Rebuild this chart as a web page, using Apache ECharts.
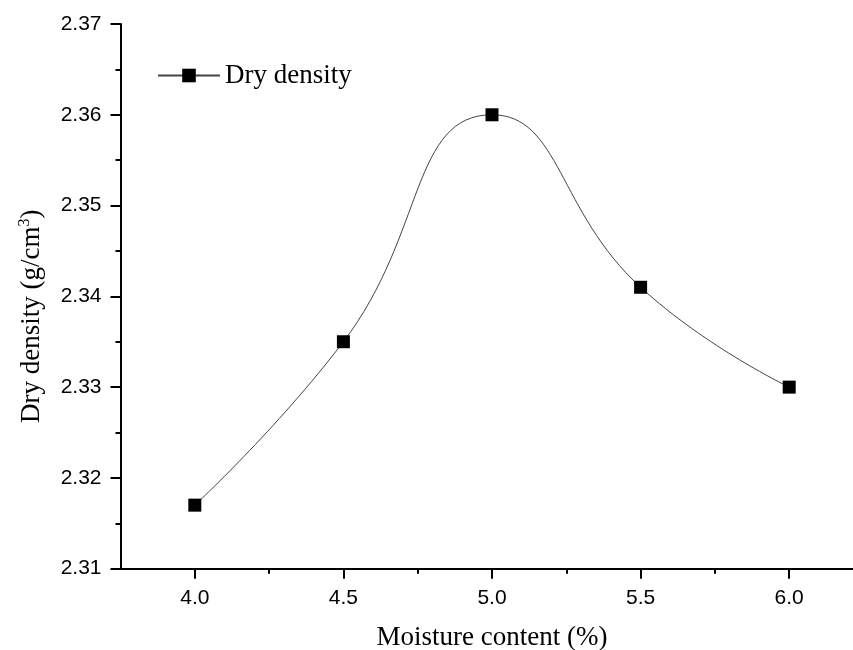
<!DOCTYPE html>
<html>
<head>
<meta charset="utf-8">
<script src="https://cdn.jsdelivr.net/npm/echarts@6/dist/echarts.min.js"></script>
<style>html,body{margin:0;padding:0;background:#fff}#c{width:853px;height:650px}</style>
</head>
<body>
<div id="c"></div>
<script>
const moisture = [4.0, 4.5, 5.0, 5.5, 6.0];
const dryDensity = [2.317, 2.335, 2.360, 2.341, 2.330];
const xMajorTicks = [4.0, 4.5, 5.0, 5.5, 6.0];
const xMinorTicks = [4.25, 4.75, 5.25, 5.75];
const seriesName = 'Dry density';
const xTitle = 'Moisture content (%)';
const yTitle = 'Dry density (g/cm{sup|3})';

const chart = echarts.init(document.getElementById('c'), null, {renderer: 'canvas'});
const xMin = 3.75, xMax = 6.25;
chart.setOption({
  backgroundColor: '#fff',
  animation: false,
  grid: {left: 120.5, top: 24, width: 743, height: 544.7, containLabel: false, outerBoundsMode: 'none'},
  legend: {
    data: [seriesName],
    left: 152, top: 57,
    itemWidth: 62, itemHeight: 17, itemGap: 8,
    textStyle: {fontFamily: 'Liberation Serif', fontSize: 27, color: '#000'}
  },
  xAxis: [{
    type: 'value', min: xMin, max: xMax,
    name: xTitle, nameLocation: 'middle', nameGap: 56,
    nameTextStyle: {fontFamily: 'Liberation Serif', fontSize: 27, color: '#000'},
    splitLine: {show: false},
    axisLine: {lineStyle: {color: '#000', width: 2}},
    axisTick: {show: true, inside: false, length: 10, lineStyle: {color: '#000', width: 2},
      customValues: xMajorTicks},
    axisLabel: {fontFamily: 'Liberation Sans', fontSize: 21, color: '#000', margin: 19,
      customValues: xMajorTicks,
      formatter: v => v.toFixed(1)}
  }, {
    type: 'value', min: xMin, max: xMax, position: 'bottom',
    splitLine: {show: false},
    axisLine: {show: false},
    axisTick: {show: true, inside: false, length: 5, lineStyle: {color: '#000', width: 2},
      customValues: xMinorTicks},
    axisLabel: {show: false}
  }],
  yAxis: {
    type: 'value', min: 2.31, max: 2.37, interval: 0.01,
    name: yTitle, nameLocation: 'middle', nameGap: 74, nameRotate: 90,
    nameTextStyle: {fontFamily: 'Liberation Serif', fontSize: 27, color: '#000', padding: [0, 40, 0, 0],
      rich: {sup: {fontFamily: 'Liberation Serif', fontSize: 16, color: '#000', verticalAlign: 'top', padding: [0,0,14,0]}}},
    splitLine: {show: false},
    axisLine: {show: true, lineStyle: {color: '#000', width: 2}},
    axisTick: {show: true, inside: false, length: 10, lineStyle: {color: '#000', width: 2}},
    minorTick: {show: true, splitNumber: 2, length: 5, lineStyle: {color: '#000', width: 2}},
    axisLabel: {fontFamily: 'Liberation Sans', fontSize: 21, color: '#000', margin: 19,
      formatter: v => v.toFixed(2)}
  },
  series: [{
    name: seriesName,
    type: 'line',
    xAxisIndex: 0,
    data: moisture.map((x, i) => [x, dryDensity[i]]),
    smooth: 0.5,
    symbol: 'rect', symbolSize: 13,
    itemStyle: {color: '#000'},
    lineStyle: {color: '#444', width: 1}
  }]
});
</script>
</body>
</html>
